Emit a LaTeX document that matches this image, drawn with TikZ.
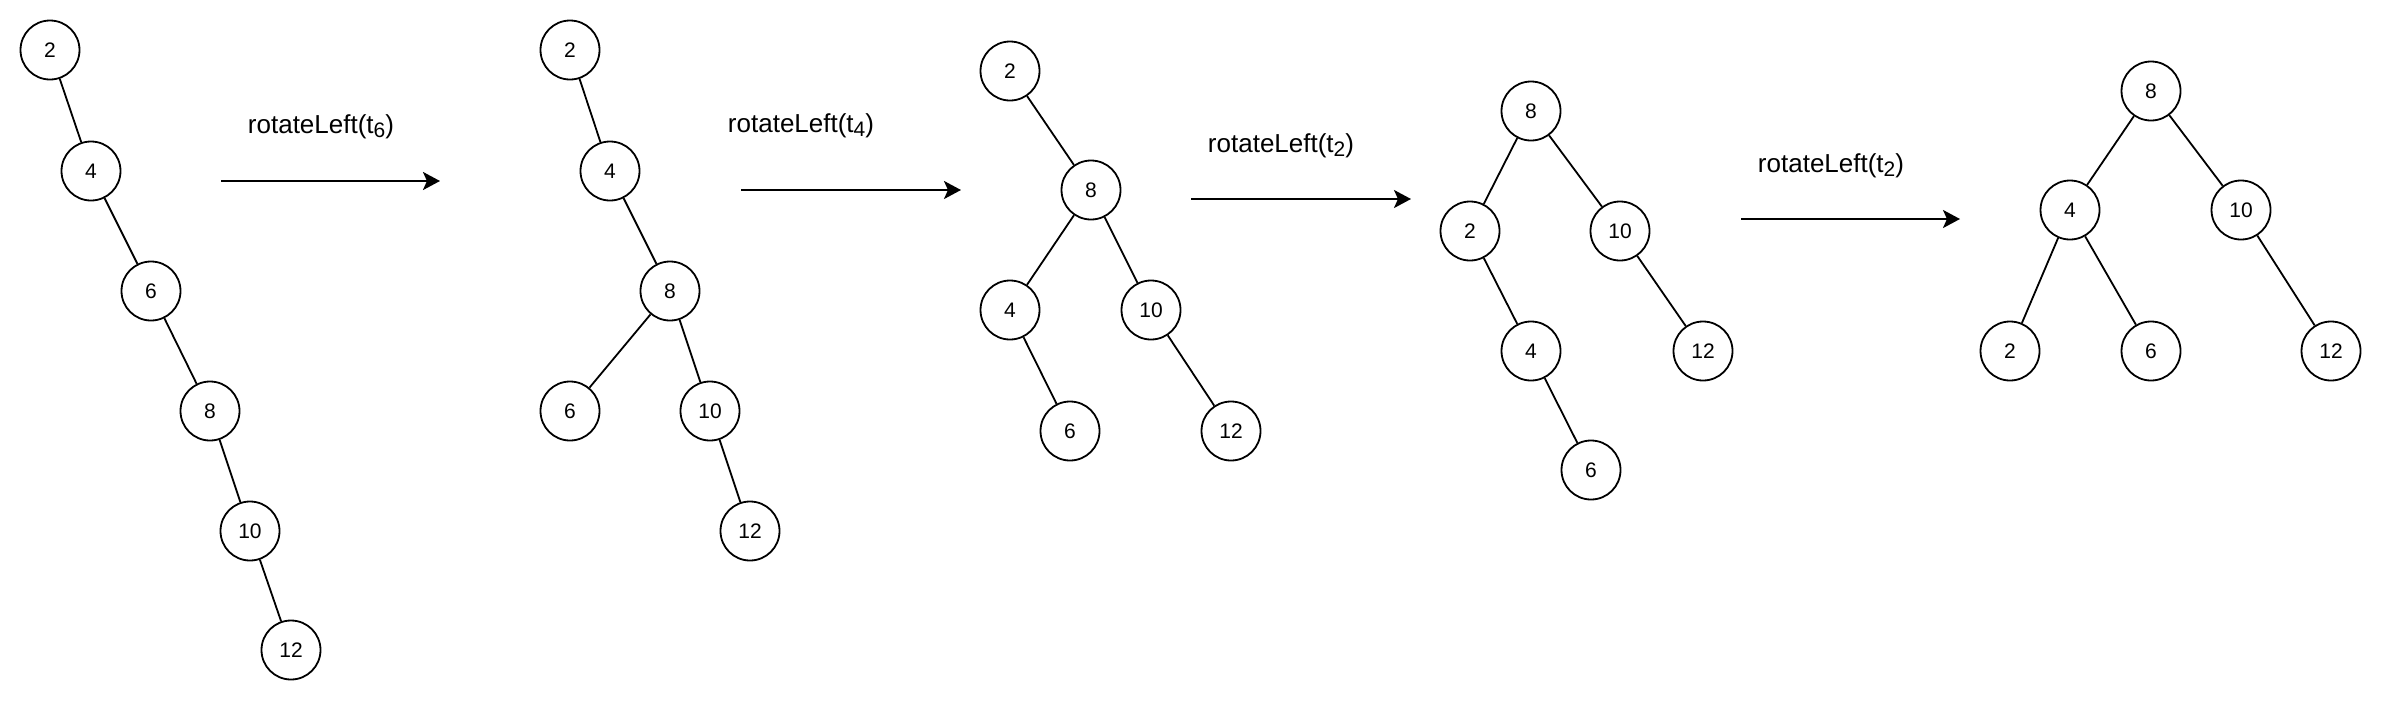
\documentclass[tikz,border=0pt]{standalone}
\usepackage{fontspec}
\setmainfont{Liberation Sans}
\usetikzlibrary{arrows.meta}
\newcommand{\subtx}[1]{\raisebox{-0.35ex}{\fontsize{21}{21}\selectfont #1}}
\begin{document}
\begin{tikzpicture}[x=1pt,y=-1pt,
 tn/.style={circle,draw,line width=1.8pt,minimum size=59pt,inner sep=0pt,font=\fontsize{21}{21}\selectfont},
 ed/.style={line width=1.8pt},
 rot/.style={line width=2.4pt,-{Stealth[length=17pt,width=18pt,inset=4pt]}},
 lbl/.style={anchor=base,font=\fontsize{26}{26}\selectfont,inner sep=0pt}]
\useasboundingbox (0,0) rectangle (2382,702);
% tree 1
\node[tn] (a2) at (50,50) {2};
\node[tn] (a4) at (91,171) {4};
\node[tn] (a6) at (151,291) {6};
\node[tn] (a8) at (210,411) {8};
\node[tn] (a10) at (250,531) {10};
\node[tn] (a12) at (291,650) {12};
\draw[ed] (a2) -- (a4); \draw[ed] (a4) -- (a6); \draw[ed] (a6) -- (a8);
\draw[ed] (a8) -- (a10); \draw[ed] (a10) -- (a12);
% tree 2
\node[tn] (b2) at (570,50) {2};
\node[tn] (b4) at (610,171) {4};
\node[tn] (b8) at (670,291) {8};
\node[tn] (b6) at (570,411) {6};
\node[tn] (b10) at (710,411) {10};
\node[tn] (b12) at (750,531) {12};
\draw[ed] (b2) -- (b4); \draw[ed] (b4) -- (b8); \draw[ed] (b8) -- (b6);
\draw[ed] (b8) -- (b10); \draw[ed] (b10) -- (b12);
% tree 3
\node[tn] (c2) at (1010,71) {2};
\node[tn] (c8) at (1091,190) {8};
\node[tn] (c4) at (1010,310) {4};
\node[tn] (c10) at (1151,310) {10};
\node[tn] (c6) at (1070,431) {6};
\node[tn] (c12) at (1231,431) {12};
\draw[ed] (c2) -- (c8); \draw[ed] (c8) -- (c4); \draw[ed] (c8) -- (c10);
\draw[ed] (c4) -- (c6); \draw[ed] (c10) -- (c12);
% tree 4
\node[tn] (d8) at (1531,111) {8};
\node[tn] (d2) at (1470,231) {2};
\node[tn] (d10) at (1620,231) {10};
\node[tn] (d4) at (1531,351) {4};
\node[tn] (d12) at (1703,351) {12};
\node[tn] (d6) at (1591,470) {6};
\draw[ed] (d8) -- (d2); \draw[ed] (d8) -- (d10); \draw[ed] (d2) -- (d4);
\draw[ed] (d4) -- (d6); \draw[ed] (d10) -- (d12);
% tree 5
\node[tn] (e8) at (2151,91) {8};
\node[tn] (e4) at (2070,210) {4};
\node[tn] (e10) at (2241,210) {10};
\node[tn] (e2) at (2010,351) {2};
\node[tn] (e6) at (2151,351) {6};
\node[tn] (e12) at (2331,351) {12};
\draw[ed] (e8) -- (e4); \draw[ed] (e8) -- (e10); \draw[ed] (e4) -- (e2);
\draw[ed] (e4) -- (e6); \draw[ed] (e10) -- (e12);
% arrows
\coordinate (r1s) at (221,181); \coordinate (r1e) at (440,181);
\coordinate (r2s) at (741,190); \coordinate (r2e) at (961,190);
\coordinate (r3s) at (1191,199); \coordinate (r3e) at (1411,199);
\coordinate (r4s) at (1741,219); \coordinate (r4e) at (1960,219);
\draw[rot] (r1s) -- (r1e);
\draw[rot] (r2s) -- (r2e);
\draw[rot] (r3s) -- (r3e);
\draw[rot] (r4s) -- (r4e);
\node[lbl] (l1) at (321,133) {rotateLeft(t\subtx{6})};
\node[lbl] (l2) at (801,132) {rotateLeft(t\subtx{4})};
\node[lbl] (l3) at (1281,152) {rotateLeft(t\subtx{2})};
\node[lbl] (l4) at (1831,172) {rotateLeft(t\subtx{2})};
\end{tikzpicture}
\end{document}
